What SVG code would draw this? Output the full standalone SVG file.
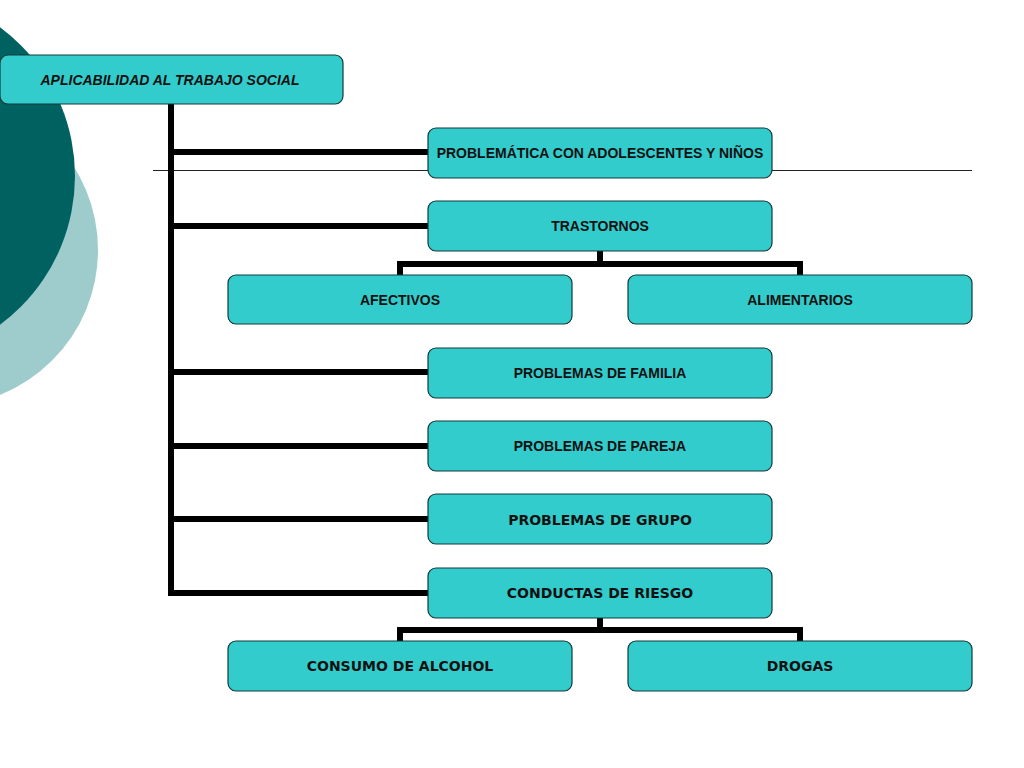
<svg xmlns="http://www.w3.org/2000/svg" width="1024" height="768" viewBox="0 0 1024 768">
<style>
.box{fill:#33CCCC;stroke:#123a3a;stroke-width:1.2}
.t{font-family:"Liberation Sans",Arial,sans-serif;font-weight:bold;font-size:14px;fill:#111;text-anchor:middle}
.v{font-family:"DejaVu Sans",Verdana,sans-serif;font-weight:bold;font-size:14px;fill:#111;text-anchor:middle}
.c{fill:none;stroke:#000;stroke-width:6;stroke-linejoin:miter;stroke-linecap:square}
</style>
<rect width="1024" height="768" fill="#fff"/>
<g id="background">
<circle cx="-58" cy="250" r="156" fill="#9ecccc"/>
<circle cx="-110" cy="176" r="185" fill="#006161"/>
<line x1="153" y1="170.5" x2="972" y2="170.5" stroke="#222" stroke-width="1.2"/>
</g>
<g id="connectors">
<path class="c" d="M171 104 V593 H428"/>
<path class="c" d="M171 152 H428 M171 226 H428 M171 372 H428 M171 446 H428 M171 519 H428"/>
<path class="c" d="M600 251 V264 M400 275 V264 H800 V275"/>
<path class="c" d="M600 618 V630 M400 641 V630 H800 V641"/>
</g>
<g id="root"><rect class="box" x="0" y="55" width="343" height="49" rx="8"/><text class="t" x="170" y="85" font-style="italic">APLICABILIDAD AL TRABAJO SOCIAL</text></g>
<g id="problematica"><rect class="box" x="428" y="128" width="344" height="50" rx="8"/><text class="t" x="600" y="158">PROBLEMÁTICA CON ADOLESCENTES Y NIÑOS</text></g>
<g id="trastornos"><rect class="box" x="428" y="201" width="344" height="50" rx="8"/><text class="t" x="600" y="231">TRASTORNOS</text></g>
<g id="afectivos"><rect class="box" x="228" y="275" width="344" height="49" rx="8"/><text class="t" x="400" y="305">AFECTIVOS</text></g>
<g id="alimentarios"><rect class="box" x="628" y="275" width="344" height="49" rx="8"/><text class="t" x="800" y="305">ALIMENTARIOS</text></g>
<g id="familia"><rect class="box" x="428" y="348" width="344" height="50" rx="8"/><text class="t" x="600" y="378">PROBLEMAS DE FAMILIA</text></g>
<g id="pareja"><rect class="box" x="428" y="421" width="344" height="50" rx="8"/><text class="t" x="600" y="451">PROBLEMAS DE PAREJA</text></g>
<g id="grupo"><rect class="box" x="428" y="494" width="344" height="50" rx="8"/><text class="v" x="600" y="525">PROBLEMAS DE GRUPO</text></g>
<g id="conductas"><rect class="box" x="428" y="568" width="344" height="50" rx="8"/><text class="v" x="600" y="598">CONDUCTAS DE RIESGO</text></g>
<g id="alcohol"><rect class="box" x="228" y="641" width="344" height="50" rx="8"/><text class="v" x="400" y="671">CONSUMO DE ALCOHOL</text></g>
<g id="drogas"><rect class="box" x="628" y="641" width="344" height="50" rx="8"/><text class="v" x="800" y="671">DROGAS</text></g>
</svg>
